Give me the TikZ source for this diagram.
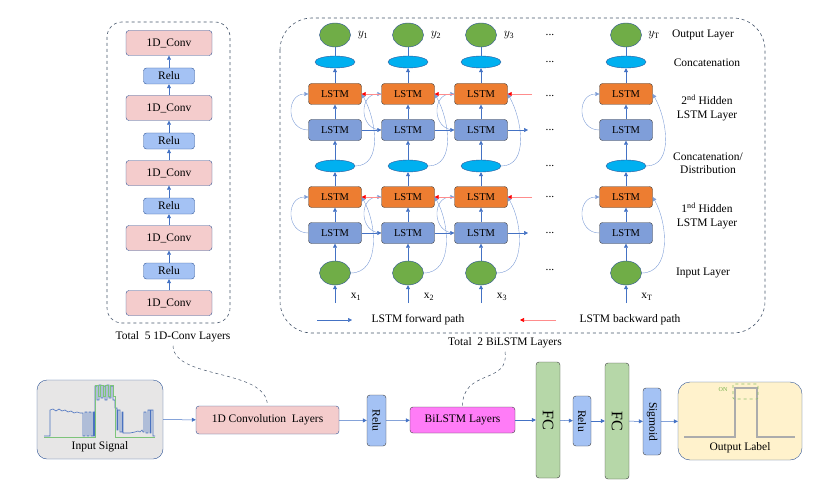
\documentclass[tikz,border=0pt]{standalone}
\usepackage{fontspec}
\setmainfont{Liberation Serif}
\usetikzlibrary{arrows.meta,shapes.geometric}

\definecolor{convpink}{HTML}{F4CCCC}
\definecolor{relublue}{HTML}{A4C2F4}
\definecolor{lstmorange}{HTML}{ED7D31}
\definecolor{lstmblue}{HTML}{7F9ED9}
\definecolor{catblue}{HTML}{00B0F0}
\definecolor{nodegreen}{HTML}{70AD47}
\definecolor{linkblue}{HTML}{4472C4}
\definecolor{edgeblue}{HTML}{2F5597}
\definecolor{panelgray}{HTML}{44546A}
\definecolor{bilstmpink}{HTML}{FF7CF7}
\definecolor{fcgreen}{HTML}{B6D7A8}
\definecolor{signalgray}{HTML}{E7E6E6}
\definecolor{labelyellow}{HTML}{FFF2CC}
\definecolor{sigblue}{HTML}{4A72C0}
\definecolor{siggreen}{HTML}{7DC47A}

\begin{document}
\begin{tikzpicture}[x=1pt,y=1pt,font=\fontsize{11.5}{13.5}\selectfont,
    box/.style={draw,rounded corners=3pt,inner sep=0pt},
    conv/.style={box,draw=edgeblue,fill=convpink,minimum width=86pt,minimum height=25pt},
    relu/.style={box,draw=edgeblue,fill=relublue,minimum width=51pt,minimum height=16pt},
    lstmf/.style={box,draw=black!75,fill=lstmblue,minimum width=53pt,minimum height=21pt,
        font=\fontsize{10.5}{12}\selectfont},
    lstmb/.style={lstmf,fill=lstmorange},
    concat/.style={ellipse,draw=edgeblue,fill=catblue,minimum width=40pt,minimum height=12pt,inner sep=0pt},
    unit/.style={ellipse,draw=edgeblue,fill=nodegreen,minimum width=31pt,minimum height=24pt,inner sep=0pt},
    layer/.style={box,draw=black!75,rotate=-90},
    panel/.style={draw=panelgray,dashed,line width=0.6pt},
    flow/.style={draw=linkblue,line width=0.5pt,-{Triangle[length=4pt,width=4pt]}},
    curl/.style={flow,draw=linkblue!70,line width=0.4pt},
    back/.style={draw=red!45,line width=0.6pt,-{Triangle[length=4pt,width=4pt,color=red]}}]

\useasboundingbox (0,0) rectangle (832,-492);

% 1D-Conv stack
\begin{scope}
    \draw[panel,rounded corners=15pt] (107,-22) rectangle (230,-323);

    \node[conv] (C1) at (169,-303) {1D\_Conv};
    \node[relu] (R1) at (169,-271) {Relu};
    \node[conv] (C2) at (169,-238) {1D\_Conv};
    \node[relu] (R2) at (169,-206) {Relu};
    \node[conv] (C3) at (169,-173) {1D\_Conv};
    \node[relu] (R3) at (169,-141) {Relu};
    \node[conv] (C4) at (169,-108) {1D\_Conv};
    \node[relu] (R4) at (169,-76) {Relu};
    \node[conv] (C5) at (169,-43) {1D\_Conv};

    \foreach \a/\b in {C1/R1,R1/C2,C2/R2,R2/C3,C3/R3,R3/C4,C4/R4,R4/C5}
        \draw[flow] (\a) -- (\b);

    \node (T1) at (173,-337) {Total\ \ 5 1D-Conv Layers};
\end{scope}

% BiLSTM
\begin{scope}
    \draw[panel,rounded corners=32pt] (280,-18) rectangle (765,-333);

    \foreach \n/\x in {1/335,2/408,3/481,T/626} {
        \node[unit] (Y\n) at (\x,-35) {};
        \node (YL\n) at (\x+28,-35) {$y_{\mathrm{\n}}$};
        \node[concat] (CB\n) at (\x,-62) {};
        \node[lstmb] (OB\n) at (\x,-94) {LSTM};
        \node[lstmf] (BB\n) at (\x,-130) {LSTM};
        \node[concat] (CA\n) at (\x,-166) {};
        \node[lstmb] (OA\n) at (\x,-197) {LSTM};
        \node[lstmf] (BA\n) at (\x,-233) {LSTM};
        \node[unit] (X\n) at (\x,-273) {};
        \node (XL\n) at (\x+21,-297) {$\mathrm{x}_{\mathrm{\n}}$};
        \coordinate (XS\n) at (\x,-303);

        \draw[flow] (XS\n) -- (X\n);
        \draw[flow] (X\n) -- (BA\n);
        \draw[flow] (BA\n) -- (OA\n);
        \draw[flow] (OA\n) -- (CA\n);
        \draw[flow] (CA\n) -- (BB\n);
        \draw[flow] (BB\n) -- (OB\n);
        \draw[flow] (OB\n) -- (CB\n);
        \draw[draw=linkblue,line width=0.5pt] (CB\n) -- (Y\n);

        \draw[curl] (BA\n.west) to[out=180,in=180,looseness=1.6] (OA\n.west);
        \draw[curl] (BB\n.west) to[out=180,in=180,looseness=1.6] (OB\n.west);
        \draw[curl] (X\n.east) to[out=0,in=-60] (OA\n.east);
        \draw[curl] (CA\n.east) to[out=0,in=-60] (OB\n.east);
    }

    \foreach \a/\b in {1/2,2/3} {
        \draw[flow] (BA\a) -- (BA\b);
        \draw[flow] (BB\a) -- (BB\b);
        \draw[back] (OA\b) -- (OA\a);
        \draw[back] (OB\b) -- (OB\a);
    }
    \coordinate (EA) at (528,-233);
    \coordinate (EB) at (528,-130);
    \coordinate (RA) at (532,-197);
    \coordinate (RB) at (532,-94);
    \draw[flow] (BA3) -- (EA);
    \draw[flow] (BB3) -- (EB);
    \draw[back] (RA) -- (OA3);
    \draw[back] (RB) -- (OB3);

    \foreach \y [count=\i] in {35,62,96,130,166,197,233,270}
        \node (DT\i) at (550,-\y) {...};

    \node (NA) at (703,-35) {Output Layer};
    \node (NB) at (707,-63) {Concatenation};
    \node[align=center] (NC) at (707,-108) {2\textsuperscript{nd} Hidden\\LSTM Layer};
    \node[align=center] (ND) at (708,-163) {Concatenation/\\Distribution};
    \node[align=center] (NE) at (707,-216) {1\textsuperscript{nd} Hidden\\LSTM Layer};
    \node (NF) at (703,-273) {Input Layer};

    \coordinate (FA) at (317,-320);
    \coordinate (FB) at (352,-320);
    \draw[flow] (FA) -- (FB);
    \node (FT) at (418,-320) {LSTM forward path};
    \coordinate (BA) at (556,-320);
    \coordinate (BB) at (520,-320);
    \draw[back] (BA) -- (BB);
    \node (BT) at (630,-320) {LSTM backward path};

    \node (T2) at (505,-343) {Total\ \ 2 BiLSTM Layers};
\end{scope}

% main pipeline
\begin{scope}
    \node[box,draw=edgeblue,fill=signalgray,rounded corners=10pt,minimum width=126pt,minimum height=79pt]
        (S) at (100,-419.5) {};
    \draw[sigblue,line width=0.6pt] plot coordinates {(44,-436) (50,-436) (50,-410) (53,-409) (56,-411)
        (59,-409) (62,-411) (65,-410) (68,-412) (71,-411) (74,-413) (77,-412) (80,-413) (83,-413)
        (83,-436) (85,-436) (85,-412) (87,-412) (87,-436) (89,-436) (89,-412) (91,-412) (91,-436)
        (93,-436) (93,-412) (94,-412) (94,-436) (95,-436) (95,-386) (97,-386) (97,-400) (99,-400)
        (99,-385) (101,-385) (101,-398) (103,-398) (103,-386) (105,-386) (105,-400) (107,-400)
        (107,-385) (109,-385) (109,-398) (111,-398) (111,-386) (113,-386) (113,-400) (115,-400)
        (115,-408) (117,-408) (117,-430) (118,-430) (118,-410) (120,-410) (120,-432) (122,-432)
        (122,-412) (123,-412) (123,-433) (130,-433) (135,-432) (138,-431) (140,-432) (142,-430)
        (143,-432) (144,-432) (144,-412) (146,-412) (146,-433) (148,-433) (148,-410) (150,-410)
        (150,-433) (151,-433) (151,-410) (153,-410) (153,-436) (155,-436)};
    \draw[siggreen,line width=0.6pt] plot coordinates {(44,-437) (95,-437) (95,-385) (98,-385)
        (98,-396) (100,-396) (100,-385) (103,-385) (103,-396) (105,-396) (105,-385) (108,-385)
        (108,-396) (110,-396) (110,-385) (113,-385) (113,-396) (115,-396) (115,-437) (155,-437)};
    \node (ST) at (100,-447) {Input Signal};

    \node[box,draw=edgeblue,fill=convpink,minimum width=143pt,minimum height=28pt]
        (D) at (267.5,-420) {1D Convolution\ \ Layers};
    \node[layer,fill=relublue,minimum width=51pt,minimum height=19pt] (RL) at (376.5,-420.5) {Relu};
    \node[box,draw=black!75,fill=bilstmpink,minimum width=105pt,minimum height=26pt]
        (L) at (462.5,-420) {BiLSTM Layers};
    \node[layer,fill=fcgreen,minimum width=116pt,minimum height=24pt,font=\fontsize{16}{18}\selectfont]
        (FCA) at (548,-420) {FC};
    \node[layer,fill=relublue,minimum width=50pt,minimum height=18pt] (RM) at (582,-421) {Relu};
    \node[layer,fill=fcgreen,minimum width=116pt,minimum height=24pt,font=\fontsize{16}{18}\selectfont]
        (FCB) at (617,-421) {FC};
    \node[layer,fill=relublue,minimum width=67pt,minimum height=18pt] (G) at (652,-421.5) {Sigmoid};

    \node[box,draw=edgeblue,fill=labelyellow,rounded corners=12pt,minimum width=124pt,minimum height=78pt]
        (O) at (740,-421) {};
    \draw[gray!65,line width=1.2pt] (684,-437) -- (735,-437) -- (735,-388) -- (757,-388) -- (757,-437) -- (795,-437);
    \draw[nodegreen!80,dashed,line width=0.6pt,rounded corners=1pt] (733,-384) rectangle (758,-399);
    \node[text=nodegreen,font=\fontsize{6}{7}\selectfont] (ON) at (723,-390) {ON};
    \node (OT) at (740,-448) {Output Label};

    \draw[flow] (S) -- (D);
    \draw[flow] (D) -- (RL);
    \draw[flow] (RL) -- (L);
    \draw[flow] (L) -- (FCA);
    \draw[flow] (FCA) -- (RM);
    \draw[flow] (RM) -- (FCB);
    \draw[flow] (FCB) -- (G);
    \draw[flow] (G) -- (O);

    \draw[panel,line width=0.5pt] (T1.south) .. controls (174,-380) and (267,-368) .. (D.north);
    \draw[panel,line width=0.5pt] (T2.south) .. controls (510,-385) and (462,-368) .. (L.north);
\end{scope}

\end{tikzpicture}
\end{document}
